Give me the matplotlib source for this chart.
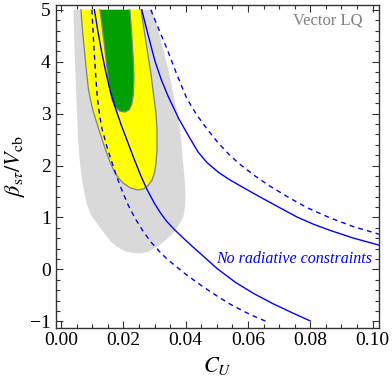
import matplotlib
matplotlib.use("Agg")
import matplotlib.pyplot as plt
from matplotlib.ticker import MultipleLocator

plt.rcParams["font.family"] = ["Liberation Serif", "DejaVu Serif"]
plt.rcParams["mathtext.fontset"] = "stix"

# 95% region (light gray)
gray_x = [0.0040, 0.0043, 0.0047, 0.0051, 0.0055, 0.0060, 0.0066, 0.0074, 0.0083, 0.0095,
          0.0110, 0.0128, 0.0147, 0.0163, 0.0179, 0.0205, 0.0227, 0.0255, 0.0280, 0.0310,
          0.0339, 0.0360, 0.0378, 0.0393, 0.0399, 0.0399, 0.0395, 0.0391, 0.0382, 0.0372,
          0.0361, 0.0346, 0.0330, 0.0312, 0.0294]
gray_y = [5.0, 4.30, 3.65, 3.05, 2.49, 2.10, 1.78, 1.50, 1.25, 1.06,
          0.93, 0.78, 0.63, 0.52, 0.44, 0.35, 0.32, 0.31, 0.34, 0.44,
          0.58, 0.70, 0.85, 1.02, 1.25, 1.53, 1.85, 2.10, 2.72, 3.05,
          3.36, 3.80, 4.20, 4.60, 5.0]

# 2 sigma region (yellow)
yel_x = [0.0064, 0.0069, 0.0075, 0.0081, 0.0088, 0.0095, 0.0103, 0.0120, 0.0138, 0.0157,
         0.0173, 0.0186, 0.0200, 0.0222, 0.0247, 0.0265, 0.0280, 0.0292, 0.0300, 0.0305,
         0.0308, 0.0308, 0.0304, 0.0297, 0.0289, 0.0279, 0.0268, 0.0257]
yel_y = [5.0, 4.60, 4.23, 3.85, 3.47, 3.25, 3.05, 2.72, 2.39, 2.07,
         1.86, 1.75, 1.66, 1.57, 1.53, 1.55, 1.62, 1.72, 1.86, 2.05,
         2.30, 2.72, 3.05, 3.36, 3.75, 4.13, 4.55, 5.0]

# 1 sigma region (green)
grn_x = [0.0125, 0.0133, 0.0141, 0.0148, 0.0154, 0.0162, 0.0172, 0.0188, 0.0205, 0.0218,
         0.0227, 0.0232, 0.0234, 0.0232, 0.0226, 0.0221]
grn_y = [5.0, 4.62, 4.23, 3.85, 3.55, 3.30, 3.14, 3.05, 3.03, 3.07,
         3.18, 3.36, 3.70, 4.03, 4.61, 5.0]

# no radiative constraints: solid and dashed bands
s1_x = [0.0107, 0.0118, 0.0130, 0.0143, 0.0157, 0.0175, 0.0192, 0.0211, 0.0235, 0.0255,
        0.0275, 0.0300, 0.0320, 0.0340, 0.0365, 0.0393, 0.0420, 0.0450, 0.0500, 0.0560,
        0.0620, 0.0680, 0.0740, 0.0799]
s1_y = [5.0, 4.60, 4.20, 3.82, 3.46, 3.10, 2.80, 2.50, 2.12, 1.82,
        1.55, 1.27, 1.08, 0.92, 0.76, 0.60, 0.45, 0.29, 0.02, -0.25,
        -0.47, -0.66, -0.83, -0.99]

s2_x = [0.0259, 0.0280, 0.0302, 0.0322, 0.0344, 0.0378, 0.0414, 0.0440, 0.0468, 0.0505,
        0.0543, 0.0575, 0.0628, 0.0692, 0.0757, 0.0810, 0.0864, 0.0940, 0.1025]
s2_y = [5.0, 4.50, 4.00, 3.65, 3.33, 2.90, 2.52, 2.26, 2.06, 1.87,
        1.72, 1.61, 1.43, 1.22, 1.01, 0.87, 0.75, 0.60, 0.46]

d1_x = [0.0099, 0.0104, 0.0110, 0.0116, 0.0123, 0.0131, 0.0147, 0.0163, 0.0179, 0.0197,
        0.0217, 0.0238, 0.0263, 0.0288, 0.0315, 0.0340, 0.0393, 0.0450, 0.0500, 0.0543,
        0.0607, 0.0666]
d1_y = [5.0, 4.45, 3.85, 3.35, 3.00, 2.72, 2.37, 2.07, 1.78, 1.50,
        1.22, 0.98, 0.74, 0.53, 0.35, 0.20, -0.06, -0.31, -0.51, -0.67,
        -0.87, -1.02]

d2_x = [0.0288, 0.0314, 0.0340, 0.0370, 0.0403, 0.0435, 0.0468, 0.0505, 0.0543, 0.0575,
        0.0620, 0.0666, 0.0735, 0.0789, 0.0864, 0.0940, 0.1025]
d2_y = [5.0, 4.62, 4.25, 3.78, 3.30, 2.98, 2.71, 2.43, 2.19, 2.02,
        1.81, 1.62, 1.37, 1.19, 0.99, 0.82, 0.67]

x_ticks = [0.00, 0.02, 0.04, 0.06, 0.08, 0.10]
x_labels = ["0.00", "0.02", "0.04", "0.06", "0.08", "0.10"]
y_ticks = [-1, 0, 1, 2, 3, 4, 5]

fig = plt.figure(figsize=(3.92, 3.80), dpi=100)
ax = fig.add_axes([0.1416, 0.138, 0.8265, 0.850])

ax.fill(gray_x, gray_y, color="#d9d9d9", lw=0, zorder=1)
ax.fill(yel_x, yel_y, color="#ffff00", lw=0, zorder=2)
ax.plot(yel_x, yel_y, color="#808080", lw=0.9, zorder=3)
ax.fill(grn_x, grn_y, color="#00a000", lw=0, zorder=4)
ax.plot(grn_x, grn_y, color="#808080", lw=0.9, zorder=5)

blue = "#0000ff"
ax.plot(s1_x, s1_y, color=blue, lw=1.0, zorder=6)
ax.plot(s2_x, s2_y, color=blue, lw=1.0, zorder=6)
ax.plot(d1_x, d1_y, color=blue, lw=1.0, ls=(0, (3.5, 3)), zorder=6)
ax.plot(d2_x, d2_y, color=blue, lw=1.0, ls=(0, (3.5, 3)), zorder=6)

ax.text(0.0966, 4.71, "Vector LQ", color="#808080", fontsize=12, ha="right", va="baseline")
ax.text(0.0998, 0.12, "No radiative constraints", color=blue, fontsize=11.5,
        style="italic", ha="right", va="baseline")

ax.set_xlim(-0.00177, 0.1022)
ax.set_ylim(-1.12, 5.10)
ax.set_xticks(x_ticks)
ax.set_xticklabels(x_labels)
ax.set_yticks(y_ticks)
ax.xaxis.set_minor_locator(MultipleLocator(0.005))
ax.yaxis.set_minor_locator(MultipleLocator(0.2))
ax.tick_params(which="both", direction="in", top=True, right=True, labelsize=14,
               color="#333333", width=0.8)
ax.tick_params(which="major", length=5)
ax.tick_params(which="minor", length=3)
for sp in ax.spines.values():
    sp.set_linewidth(1.0)
    sp.set_color("#333333")

ax.set_xlabel(r"$C_U$", fontsize=16, labelpad=4)
ax.set_ylabel(r"$\beta_{\mathrm{s}\tau}/V_{\mathrm{cb}}$", fontsize=16, labelpad=2)

fig.savefig("out.png", dpi=100)
